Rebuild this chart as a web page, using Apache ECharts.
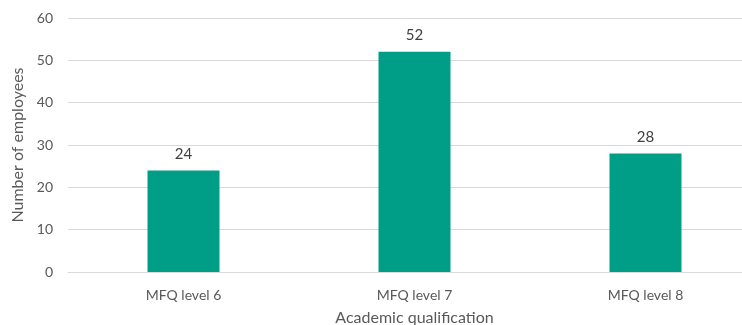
<!DOCTYPE html>
<html>
<head>
<meta charset="utf-8">
<script src="https://cdn.jsdelivr.net/npm/echarts@6/dist/echarts.min.js"></script>
<style>
  html, body { margin: 0; padding: 0; background: #fff; }
  #chart { width: 742px; height: 325px; }
</style>
</head>
<body>
<div id="chart"></div>
<script>
// Employees by academic qualification
const categories = ['MFQ level 6', 'MFQ level 7', 'MFQ level 8'];
const employees = [24, 52, 28];
const yTicks = { min: 0, max: 60, interval: 10 };

const FONT = 'Lato, "Noto Sans", sans-serif';
const chart = echarts.init(document.getElementById('chart'));
chart.setOption({
  animation: false,
  textStyle: { fontFamily: FONT },
  grid: {
    left: 68, right: -19, top: 18, bottom: 53,
    containLabel: false,
    outerBoundsMode: 'none'
  },
  xAxis: {
    type: 'category',
    data: categories,
    name: 'Academic qualification',
    nameLocation: 'middle',
    nameGap: 38,
    nameTextStyle: { fontSize: 16, color: '#595959', fontFamily: FONT },
    axisLine: { show: true, lineStyle: { color: '#d9d9d9' } },
    axisTick: { show: false },
    axisLabel: { fontSize: 14, color: '#595959', margin: 16 }
  },
  yAxis: {
    type: 'value',
    min: yTicks.min, max: yTicks.max, interval: yTicks.interval,
    name: 'Number of employees',
    nameLocation: 'middle',
    nameGap: 34,
    nameTextStyle: { fontSize: 16, color: '#595959', fontFamily: FONT },
    axisLine: { show: false },
    axisTick: { show: false },
    axisLabel: { fontSize: 14, color: '#595959', margin: 15 },
    splitLine: { lineStyle: { color: '#d9d9d9' } }
  },
  series: [{
    type: 'bar',
    data: employees,
    barWidth: 72,
    itemStyle: { color: '#009e87' },
    label: { show: true, position: 'top', distance: 9, fontSize: 15, color: '#404040' }
  }]
});
</script>
</body>
</html>
